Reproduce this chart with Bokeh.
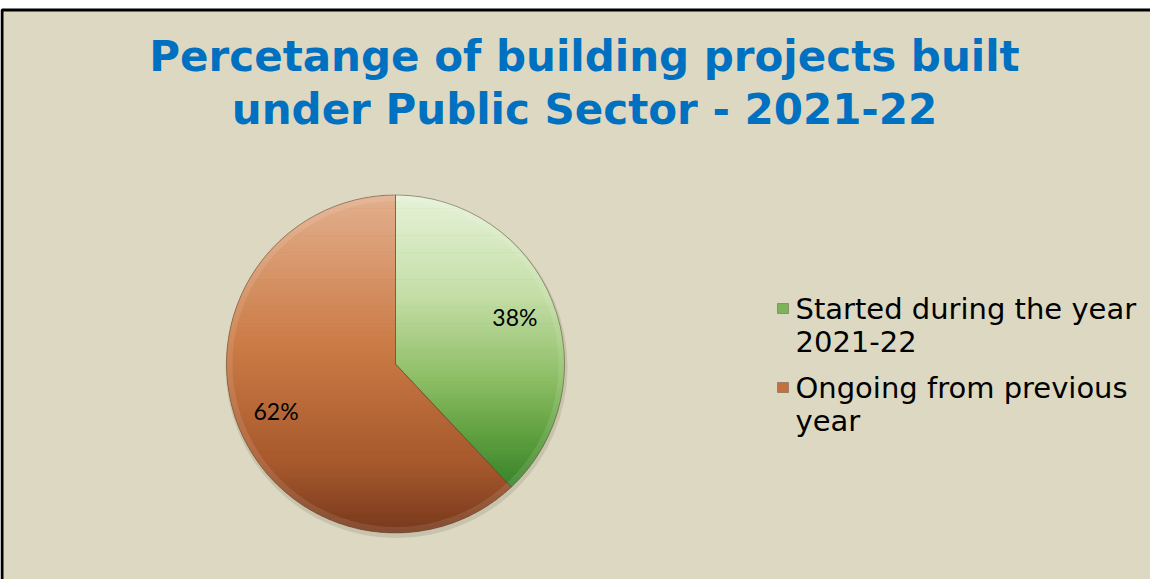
import math
from bokeh.plotting import figure
from bokeh.models import Range1d, ColumnDataSource
from bokeh.core.properties import value
from bokeh.embed import file_html
from bokeh.resources import INLINE

# ---- data ----
categories = ["Started during the year\n2021-22", "Ongoing from previous\nyear"]
shares = [38, 62]
title_lines = ["Percetange of building projects built", "under Public Sector - 2021-22"]

# ---- styling ----
W, H = 1150, 579
BG = "#DDD8C2"
TITLE_COLOR = "#0070C0"
grad_stops = [
    [(0.0, (230, 242, 216)), (0.3, (196, 222, 166)), (0.55, (140, 189, 100)),
     (0.72, (92, 158, 62)), (0.86, (58, 132, 42)), (1.0, (34, 102, 24))],
    [(0.0, (226, 176, 142)), (0.45, (203, 122, 68)), (0.8, (166, 88, 44)), (1.0, (118, 56, 28))],
]
mid_colors = ["#7DB35A", "#C27040"]

def img_x(x):
    return x - 8

def img_y(y):
    return 587 - y

def grad_color(stops, t):
    t = min(max(t, 0.0), 1.0)
    for (t0, c0), (t1, c1) in zip(stops[:-1], stops[1:]):
        if t <= t1:
            f = (t - t0) / (t1 - t0) if t1 > t0 else 0
            c = [int(round(a + (b - a) * f)) for a, b in zip(c0, c1)]
            return "#%02x%02x%02x" % tuple(c)
    c = stops[-1][1]
    return "#%02x%02x%02x" % c

def clip(poly, yv, keep_below):
    out = []
    n = len(poly)
    for i in range(n):
        cur = poly[i]
        prv = poly[i - 1]
        cin = cur[1] <= yv if keep_below else cur[1] >= yv
        pin = prv[1] <= yv if keep_below else prv[1] >= yv
        if cin:
            if not pin:
                f = (yv - prv[1]) / (cur[1] - prv[1])
                out.append((prv[0] + f * (cur[0] - prv[0]), yv))
            out.append(cur)
        elif pin:
            f = (yv - prv[1]) / (cur[1] - prv[1])
            out.append((prv[0] + f * (cur[0] - prv[0]), yv))
    return out

p = figure(width=W, height=H, output_backend="svg", toolbar_location=None,
           x_range=Range1d(0, W), y_range=Range1d(0, H), min_border=0)
p.axis.visible = False
p.grid.visible = False
p.outline_line_color = None
p.background_fill_color = "white"
p.border_fill_color = "white"

# slide background with border
p.quad(left=[img_x(9.5)], right=[W + 10], top=[img_y(17.5)], bottom=[-10],
       fill_color=BG, line_color="black", line_width=3)

# pie geometry
cx, cy, r = img_x(403), img_y(371.5), 169
total = float(sum(shares))
angles = []
a = 90.0
for s in shares:
    sweep = s / total * 360.0
    angles.append((a, a - sweep))
    a -= sweep

src = ColumnDataSource(dict(
    start=[math.radians(e) for _, e in angles],
    end=[math.radians(s) for s, _ in angles],
    color=mid_colors,
))
# soft shadow
p.circle(x=cx + 1, y=cy - 3, radius=r + 2, fill_color="#8a8470", fill_alpha=0.25, line_color=None)
p.wedge(x=cx, y=cy, radius=r, start_angle="start", end_angle="end",
        fill_color="color", line_color=None, source=src)

# gradient overlay
NB = 100
ytop, ybot = cy + r, cy - r
for k, (a0, a1) in enumerate(angles):
    npts = max(8, int(abs(a0 - a1)))
    poly = [(cx, cy)]
    for i in range(npts + 1):
        ang = math.radians(a0 + (a1 - a0) * i / npts)
        poly.append((cx + r * math.cos(ang), cy + r * math.sin(ang)))
    xs, ys, cols = [], [], []
    for b in range(NB):
        y1 = ytop - (ytop - ybot) * b / NB
        y0 = ytop - (ytop - ybot) * (b + 1) / NB
        piece = clip(clip(poly, y1 + 0.3, True), y0 - 0.3, False)
        if len(piece) < 3:
            continue
        xs.append([q[0] for q in piece])
        ys.append([q[1] for q in piece])
        cols.append(grad_color(grad_stops[k], (b + 0.5) / NB))
    p.patches(xs=xs, ys=ys, fill_color=cols, line_color=None)

# subtle bevel edges
p.annular_wedge(x=cx, y=cy, inner_radius=r - 6, outer_radius=r, start_angle="start",
                end_angle="end", fill_color="white", fill_alpha=0.10, line_color=None, source=src)
p.wedge(x=cx, y=cy, radius=r, start_angle="start", end_angle="end",
        fill_color=None, line_color="#5e4a38", line_alpha=0.5, line_width=1, source=src)

# percentage labels
lx, ly, lt = [], [], []
for (a0, a1), s in zip(angles, shares):
    m = math.radians((a0 + a1) / 2)
    lx.append(cx + 0.76 * r * math.cos(m))
    ly.append(cy + 0.76 * r * math.sin(m))
    lt.append("%d%%" % round(s / total * 100))
p.text(x=lx, y=ly, text=lt, text_font=value("Lato"), text_font_size="23px",
       text_color="black", text_align="center", text_baseline="middle")

# title
p.text(x=[img_x(592)] * 2, y=[img_y(64), img_y(117)], text=title_lines,
       text_font=value("DejaVu Sans"), text_font_style="bold", text_font_size="42px",
       text_color=TITLE_COLOR, text_align="center", text_baseline="middle")

# legend
leg_y = [img_y(316), img_y(395)]
p.rect(x=[img_x(790.5)] * 2, y=leg_y, width=11, height=10,
       fill_color=mid_colors, line_color="#6b5a48", line_width=0.5)
tx, ty, tt = [], [], []
for yy, lab in zip(leg_y, categories):
    for j, line in enumerate(lab.split("\n")):
        tx.append(img_x(803))
        ty.append(yy - 33 * j)
        tt.append(line)
p.text(x=tx, y=ty, text=tt, text_font=value("DejaVu Sans"), text_font_size="29px",
       text_color="black", text_align="left", text_baseline="middle")

open("out.html", "w").write(file_html(p, INLINE))
